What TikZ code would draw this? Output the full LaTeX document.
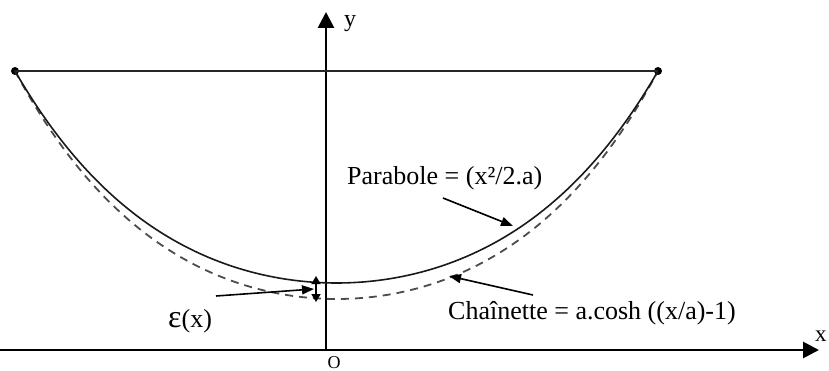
\documentclass[tikz,border=0pt]{standalone}
\usepackage{fontspec}
\setmainfont{Liberation Serif}
\usetikzlibrary{arrows.meta}
\begin{document}
\begin{tikzpicture}[x=1pt,y=-1pt,
  axis/.style={line width=2.8pt,-{Triangle[width=16pt,length=16pt]}},
  curve/.style={line width=1.6pt,black!90},
  dcurve/.style={line width=1.8pt,dash pattern=on 8pt off 6pt,black!70},
  lbl/.style={inner sep=0pt,anchor=base west,font=\fontsize{26}{30}\selectfont},
  pointer/.style={line width=1.6pt,-{Triangle[width=9pt,length=12pt]}},
  dot/.style={circle,fill=black,inner sep=0pt,minimum size=8pt}]
\useasboundingbox (0,0) rectangle (829,371);
% axes
\coordinate (xs) at (0,350);
\coordinate (xe) at (819,350);
\coordinate (ys) at (326,351);
\coordinate (ye) at (326,12);
\draw[axis] (xs) -- (xe);
\draw[axis] (ys) -- (ye);
\node[lbl,font=\fontsize{24}{28}\selectfont] (ylab) at (344,27) {y};
\node[lbl,font=\fontsize{23}{28}\selectfont] (xlab) at (815,341) {x};
\node[inner sep=0pt,font=\fontsize{18}{20}\selectfont,anchor=north] (olab) at (334,356) {O};
% top chord
\node[dot] (A) at (15,71) {};
\node[dot] (B) at (658,71) {};
\draw[line width=1.5pt,black!85] (A.center) -- (B.center);
% curves
\draw[dcurve] plot[domain=-1:1,samples=120,smooth]
  ({336.5+321.5*\x},{299-228*(cosh(2*\x)-1)/2.7622});
\draw[curve] plot[domain=-1:1,samples=120,smooth]
  ({336.5+321.5*\x},{283-212*(cosh(2*\x)-1)/2.7622});
% labels
\node[lbl] (par) at (347,185) {Parabole = (x²/2.a)};
\node[lbl] (cha) at (448,319) {Chaînette = a.cosh ((x/a)-1)};
\node[lbl] (eps) at (168,327) {{\fontsize{32}{34}\selectfont ε}(x)};
% pointers
\coordinate (p1) at (443,198);
\coordinate (p2) at (513,226);
\draw[pointer] (p1) -- (p2);
\coordinate (c1) at (533,295);
\coordinate (c2) at (449,276);
\draw[pointer] (c1) -- (c2);
\coordinate (e1) at (216,296);
\coordinate (e2) at (314,289);
\draw[pointer] (e1) -- (e2);
\coordinate (d1) at (316,276);
\coordinate (d2) at (316,302);
\draw[line width=1.6pt,{Triangle[width=9pt,length=8pt]}-{Triangle[width=9pt,length=8pt]}] (d1) -- (d2);
\end{tikzpicture}
\end{document}
